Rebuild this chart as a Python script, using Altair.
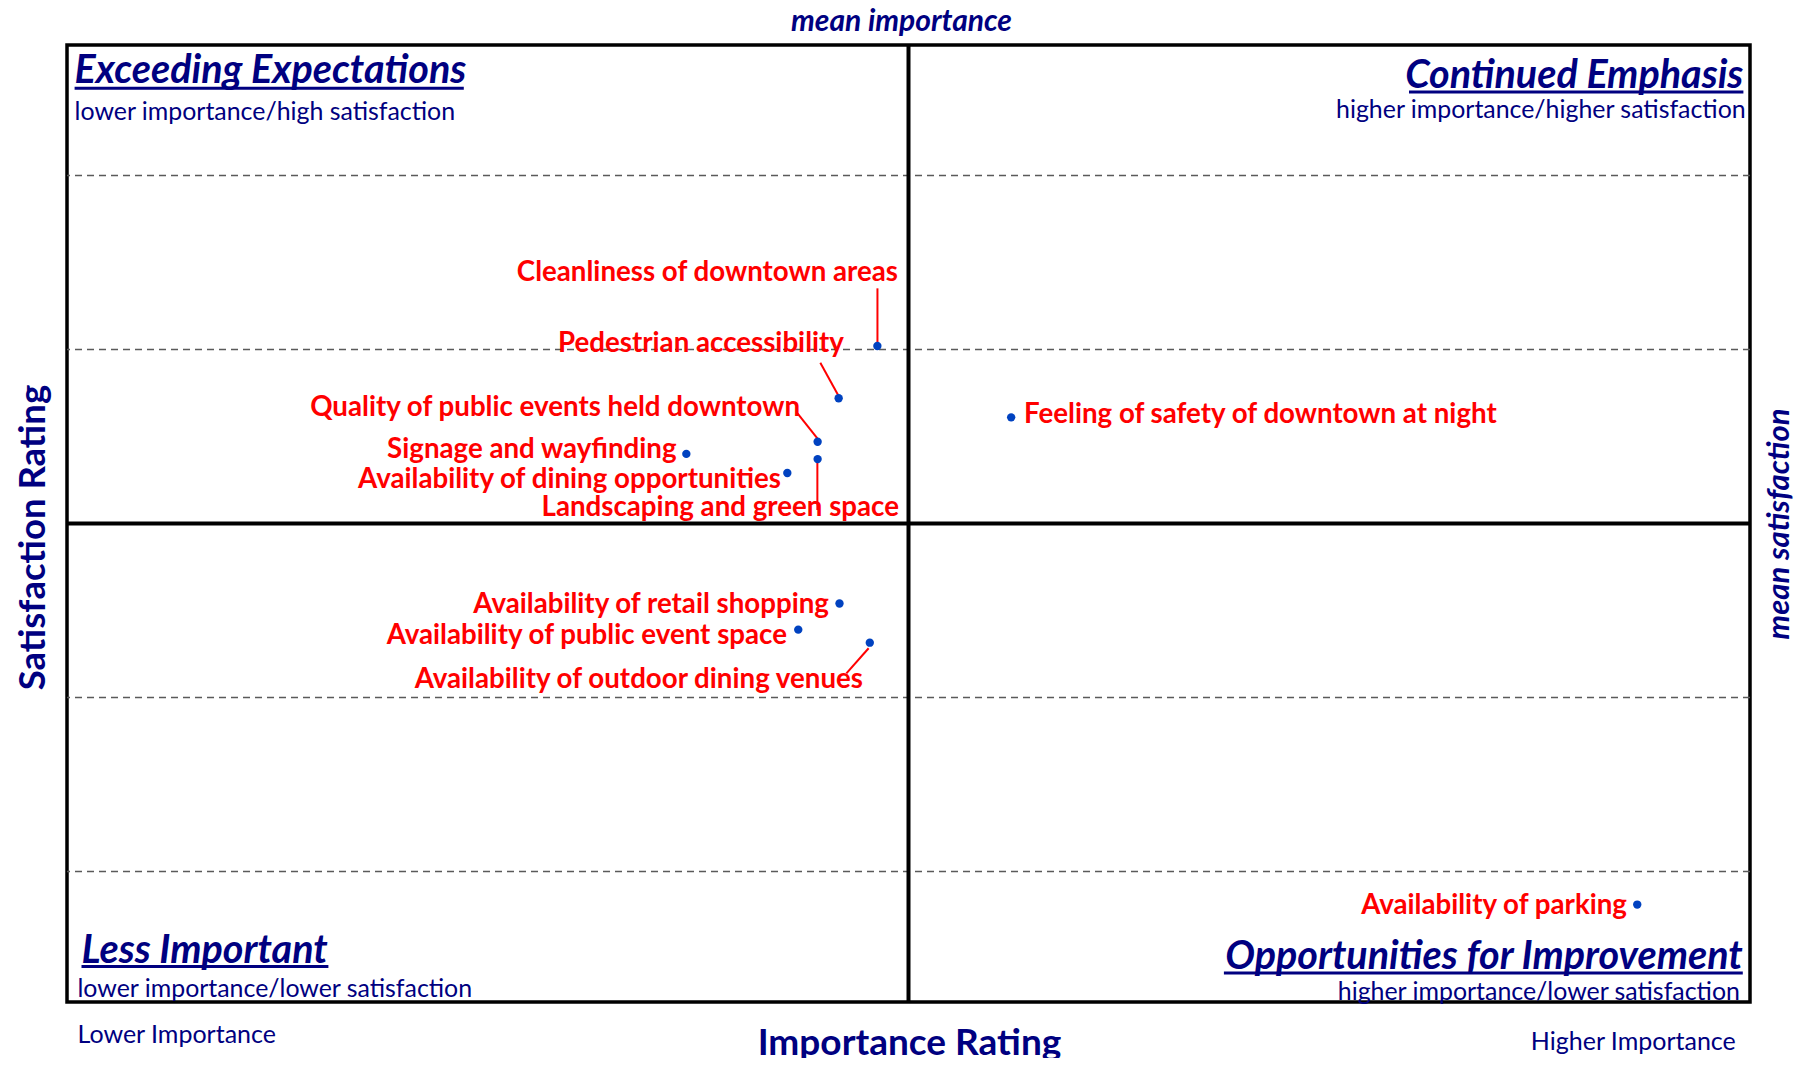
import altair as alt
import pandas as pd

# ---------------- data ----------------
items = [
    "Cleanliness of downtown areas",
    "Pedestrian accessibility",
    "Quality of public events held downtown",
    "Signage and wayfinding",
    "Availability of dining opportunities",
    "Landscaping and green space",
    "Feeling of safety of downtown at night",
    "Availability of retail shopping",
    "Availability of public event space",
    "Availability of outdoor dining venues",
    "Availability of parking",
]
importance = [3.463, 3.417, 3.392, 3.236, 3.356, 3.392, 3.622, 3.418, 3.369, 3.454, 4.366]
satisfaction = [3.604, 3.544, 3.494, 3.480, 3.458, 3.474, 3.522, 3.308, 3.278, 3.263, 2.962]

# label anchor positions (data units) and alignment
label_x = [3.4875, 3.4233, 3.3711, 3.2243, 3.3485, 3.4887, 3.6373, 3.4055, 3.3556, 3.4459, 4.3538]
label_y = [3.6902, 3.6090, 3.5351, 3.4874, 3.4523, 3.4201, 3.5276, 3.3092, 3.2730, 3.2230, 2.9626]
label_align = ["right", "right", "right", "right", "right", "right", "left",
               "right", "right", "right", "right"]

# leader lines (data units)
leader_x1 = [3.4631, 3.3952, 3.3681, 3.3917, 3.4526]
leader_y1 = [3.6703, 3.5848, 3.5267, 3.4730, 3.2566]
leader_x2 = [3.4631, 3.4163, 3.3917, 3.3917, 3.4262]
leader_y2 = [3.6075, 3.5477, 3.4979, 3.4155, 3.2278]

mean_importance = 3.5
mean_satisfaction = 3.4
grid_values = [3.0, 3.2, 3.6, 3.8]
x_domain = [2.5, 4.5]
y_domain = [2.85, 3.95]

NAVY = "#000080"
RED = "#ff0000"
DOT = "#0042c0"
FONT = "Lato"

W, H = 1683, 957
TITLE_SIZE = 39.5
SUB_SIZE = 24.9
LABEL_SIZE = 27.7

pts = pd.DataFrame({"item": items, "imp": importance, "sat": satisfaction,
                    "lx": label_x, "ly": label_y, "align": label_align})
leaders = pd.DataFrame({"x1": leader_x1, "y1": leader_y1, "x2": leader_x2, "y2": leader_y2})
grid = pd.DataFrame({"g": grid_values})
means = pd.DataFrame({"mi": [mean_importance], "ms": [mean_satisfaction]})

xs = alt.Scale(domain=x_domain, nice=False, zero=False)
ys = alt.Scale(domain=y_domain, nice=False, zero=False)

ax_x = alt.Axis(title="Importance Rating", domain=False, ticks=False, labels=False, grid=False,
                titleFont=FONT, titleFontSize=37, titleFontWeight="bold", titleColor=NAVY,
                titleX=842, titleY=52, titleBaseline="alphabetic", titleAlign="center")
ax_y = alt.Axis(title="Satisfaction Rating", domain=False, ticks=False, labels=False, grid=False,
                titleFont=FONT, titleFontSize=36.5, titleFontWeight="bold", titleColor=NAVY,
                titleX=-34, titleY=492, titleAngle=270, titleAlign="center", titleBaseline="middle")


def X(f):
    return alt.X(f, type="quantitative", scale=xs, axis=ax_x)


def Y(f):
    return alt.Y(f, type="quantitative", scale=ys, axis=ax_y)


grid_layer = alt.Chart(grid).mark_rule(color="#5a5a5a", strokeWidth=1.3, strokeDash=[7, 5]).encode(
    y=Y("g"))

hmean = alt.Chart(means).mark_rule(color="black", strokeWidth=4).encode(y=Y("ms"))
vmean = alt.Chart(means).mark_rule(color="black", strokeWidth=4).encode(x=X("mi"))

leader_layer = alt.Chart(leaders).mark_rule(color=RED, strokeWidth=2).encode(
    x=X("x1"), y=Y("y1"), x2="x2", y2="y2")

point_layer = alt.Chart(pts).mark_circle(size=70, color=DOT, opacity=1).encode(
    x=X("imp"), y=Y("sat"))

label_r = alt.Chart(pts).transform_filter(alt.datum.align == "right").mark_text(
    font=FONT, fontSize=LABEL_SIZE, fontWeight="bold", color=RED, align="right",
    baseline="middle", dy=2.3
).encode(x=X("lx"), y=Y("ly"), text="item:N")

label_l = alt.Chart(pts).transform_filter(alt.datum.align == "left").mark_text(
    font=FONT, fontSize=LABEL_SIZE, fontWeight="bold", color=RED, align="left",
    baseline="middle", dy=2.3
).encode(x=X("lx"), y=Y("ly"), text="item:N")


def note(text, x, y, size, weight="normal", style="normal", align="left",
         baseline="middle", angle=0):
    return alt.Chart(pd.DataFrame({"t": [text]})).mark_text(
        font=FONT, fontSize=size, fontWeight=weight, fontStyle=style, color=NAVY,
        align=align, baseline=baseline, angle=angle
    ).encode(x=alt.value(x), y=alt.value(y), text="t:N")


def underline(x1, x2, y):
    return alt.Chart(pd.DataFrame({"a": [0]})).mark_rule(color=NAVY, strokeWidth=3).encode(
        x=alt.value(x1), x2=alt.value(x2), y=alt.value(y))


notes = [
    note("Exceeding Expectations", 7.6, 38.2, TITLE_SIZE, "bold", "italic", "left", "alphabetic"),
    underline(7.6, 396.8, 43.3),
    note("lower importance/high satisfaction", 7.6, 67.5, SUB_SIZE),
    note("Continued Emphasis", 1676.4, 42.5, TITLE_SIZE, "bold", "italic", "right", "alphabetic"),
    underline(1342, 1676.4, 47),
    note("higher importance/higher satisfaction", 1678.7, 66, SUB_SIZE, align="right"),
    note("Less Important", 14.5, 917.5, TITLE_SIZE, "bold", "italic", "left", "alphabetic"),
    underline(14.5, 261.4, 921.5),
    note("lower importance/lower satisfaction", 10.5, 944.8, SUB_SIZE),
    note("Opportunities for Improvement", 1675.8, 923.5, TITLE_SIZE, "bold", "italic", "right", "alphabetic"),
    underline(1156.9, 1675.8, 928),
    note("higher importance/lower satisfaction", 1672.9, 947.5, SUB_SIZE, align="right"),
    note("Lower Importance", 10.5, 990, 25),
    note("Higher Importance", 1668.8, 996.7, 25, align="right"),
    note("mean importance", 834.5, -14.5, 30, "bold", "italic", "center", "alphabetic"),
    note("mean satisfaction", 1713, 479, 31, "bold", "italic", "center", angle=270),
]

chart = alt.layer(
    grid_layer, hmean, vmean, leader_layer, point_layer, label_r, label_l, *notes
).properties(
    width=W, height=H,
    autosize=alt.AutoSizeParams(type="none"),
    padding={"left": 59, "top": 37, "right": 47, "bottom": 56},
).configure_view(stroke="black", strokeWidth=3.5)

chart.save("out.html", embed_options={"renderer": "svg", "actions": False})
